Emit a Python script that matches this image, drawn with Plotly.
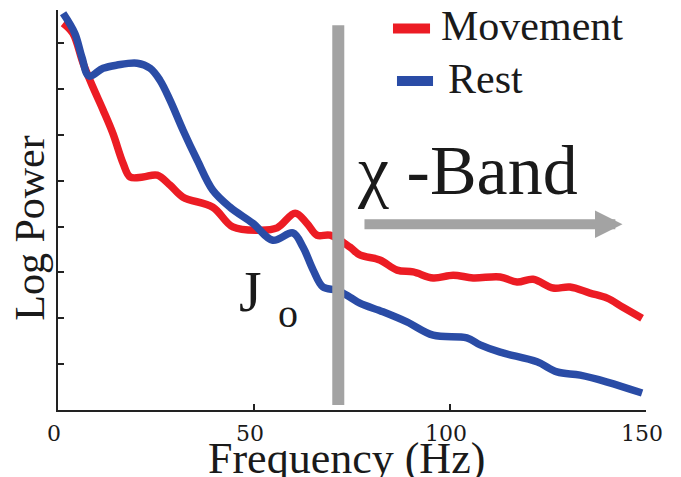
import plotly.graph_objects as go

# Movement (red) spectrum
move_f = [1.3, 3.8, 6.4, 8.9, 11.5, 14.0, 16.6, 18.4, 21.7, 25.3, 28.6, 31.9, 39.5, 44.6,
          51.5, 55.9, 60.5, 63.5, 66.1, 69.4, 74.5, 77.0, 82.1, 86.5, 90.6, 95.7, 100.8,
          105.9, 112.8, 117.1, 121.2, 126.3, 130.6, 135.7, 140.1, 144.1, 149.0]
move_p = [8.43, 8.21, 7.56, 7.04, 6.54, 6.03, 5.38, 5.08, 5.08, 5.12, 4.90, 4.64, 4.42, 3.99,
          3.92, 3.97, 4.29, 4.07, 3.81, 3.81, 3.55, 3.38, 3.27, 3.05, 3.01, 2.88, 2.94,
          2.88, 2.90, 2.79, 2.85, 2.66, 2.68, 2.55, 2.44, 2.24, 2.00]

# Rest (blue) spectrum
rest_f = [1.3, 4.3, 6.1, 7.9, 11.5, 15.1, 20.2, 23.5, 26.0, 28.6, 31.9, 35.5, 39.5, 43.9,
          49.7, 54.8, 59.9, 62.5, 65.1, 67.6, 71.2, 74.5, 77.0, 82.9, 89.0, 95.7, 104.3,
          107.7, 112.8, 122.2, 127.3, 133.2, 140.1, 149.0]
rest_p = [8.65, 8.21, 7.69, 7.28, 7.45, 7.52, 7.56, 7.45, 7.19, 6.75, 6.10, 5.45, 4.79, 4.42,
          4.07, 3.70, 3.86, 3.55, 3.05, 2.68, 2.61, 2.46, 2.33, 2.14, 1.92, 1.63, 1.57,
          1.42, 1.26, 1.05, 0.83, 0.76, 0.61, 0.37]

series_names = ["Movement", "Rest"]
x_ticks = [0, 50, 100, 150]
y_ticks = [1, 2, 3, 4, 5, 6, 7, 8]

cutoff_f = 71.5   # vertical marker
band_start, band_end = 77.8, 144.0

RED = "#ec1c24"
BLUE = "#2a4ca6"
GRAY = "#a3a3a3"
INK = "#1a1a1a"
SERIF = "Liberation Serif, Times New Roman, serif"

fig = go.Figure()
fig.add_trace(go.Scatter(x=move_f, y=move_p, mode="lines", name=series_names[0],
                         showlegend=False,
                         line=dict(color=RED, width=7.5, shape="spline", smoothing=1.0)))
fig.add_trace(go.Scatter(x=rest_f, y=rest_p, mode="lines", name=series_names[1],
                         showlegend=False,
                         line=dict(color=BLUE, width=7.5, shape="spline", smoothing=1.0)))

# manual legend (paper coordinates)
legend_rows = [
    (series_names[0], RED, 0.5697, 0.6327, 0.954, 0.6480, 0.959),
    (series_names[1], BLUE, 0.5765, 0.6378, 0.8225, 0.6600, 0.8275),
]
for name, col, lx0, lx1, ly, tx, ty in legend_rows:
    fig.add_shape(type="line", xref="paper", yref="paper", x0=lx0, x1=lx1, y0=ly, y1=ly,
                  line=dict(color=col, width=10))
    fig.add_annotation(x=tx, y=ty, xref="paper", yref="paper", text=name,
                       showarrow=False, xanchor="left", yanchor="middle",
                       font=dict(family=SERIF, size=42, color=INK))

fig.add_shape(type="line", xref="x", yref="y", x0=cutoff_f, x1=cutoff_f, y0=0.11, y1=8.39,
              line=dict(color=GRAY, width=12), layer="above")

fig.add_annotation(x=band_end, y=4.05, ax=band_start, ay=4.05, xref="x", yref="y",
                   axref="x", ayref="y", text="", showarrow=True, arrowhead=2,
                   arrowsize=0.55, arrowwidth=10, arrowcolor=GRAY)

fig.add_annotation(x=0.505, y=0.60, xref="paper", yref="paper", text="χ -Band",
                   showarrow=False, xanchor="left", yanchor="middle",
                   font=dict(family=SERIF, size=70, color=INK))
fig.add_annotation(x=0.305, y=0.296, xref="paper", yref="paper", text="J",
                   showarrow=False, xanchor="left", yanchor="middle",
                   font=dict(family=SERIF, size=58, color=INK))
fig.add_annotation(x=0.37, y=0.2415, xref="paper", yref="paper", text="o",
                   showarrow=False, xanchor="left", yanchor="middle",
                   font=dict(family=SERIF, size=40, color=INK))

fig.add_annotation(x=0.49, y=-0.055, xref="paper", yref="paper", text="Frequency (Hz)",
                   showarrow=False, xanchor="center", yanchor="top",
                   font=dict(family=SERIF, size=44, color=INK))
fig.add_annotation(x=-0.048, y=0.455, xref="paper", yref="paper", text="Log Power",
                   showarrow=False, xanchor="center", yanchor="middle", textangle=-90,
                   font=dict(family=SERIF, size=42, color=INK))

fig.update_layout(
    width=681, height=477,
    margin=dict(l=58, r=35, t=10, b=67),
    paper_bgcolor="white", plot_bgcolor="white",
    showlegend=False,
    xaxis=dict(range=[0, 150], tickvals=x_ticks, ticktext=[str(v) for v in x_ticks],
               ticks="inside", ticklen=6, tickwidth=1.5, tickcolor="#222",
               showline=True, linecolor="#222", linewidth=1.5, showgrid=False,
               zeroline=False, ticklabelstandoff=3, ticklabelshift=-4,
               tickfont=dict(family="DejaVu Serif, serif", size=22, color=INK)),
    yaxis=dict(range=[0, 8.72], tickvals=y_ticks, showticklabels=False,
               ticks="inside", ticklen=6, tickwidth=1.5, tickcolor="#222",
               showline=True, linecolor="#222", linewidth=1.5, showgrid=False,
               zeroline=False),
)

fig.write_html("out.html", config={"displayModeBar": False},
               post_script="document.body.style.margin='0px';")
